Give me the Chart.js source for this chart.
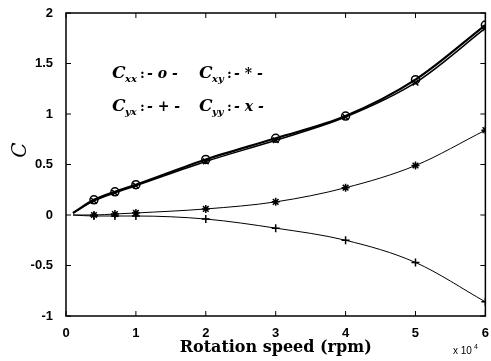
<!DOCTYPE html>
<html>
<head>
    <title>C vs rotation speed</title>
    <script src="https://cdn.jsdelivr.net/npm/chart.js"></script>
    <style>
        body { margin: 0; background: #fff; }
        #wrap { width: 491px; height: 361px; }
    </style>
</head>
<body>
    <div id="wrap"><canvas id="chart" width="491" height="361"></canvas></div>

    <script>
        // rotation speed in units of 10^4 rpm
        const speed = [0.1, 0.4, 0.7, 1, 2, 3, 4, 5, 6];
        const cxx = [0.02, 0.15, 0.23, 0.30, 0.55, 0.76, 0.98, 1.34, 1.88];
        const cxy = [0, 0, 0.01, 0.02, 0.06, 0.13, 0.27, 0.49, 0.84];
        const cyx = [0, -0.01, -0.01, -0.01, -0.04, -0.13, -0.25, -0.47, -0.86];
        const cyy = [0.02, 0.14, 0.22, 0.29, 0.53, 0.74, 0.97, 1.31, 1.85];
        const xTicks = [0, 1, 2, 3, 4, 5, 6];
        const yTicks = [-1, -0.5, 0, 0.5, 1, 1.5, 2];

        const pts = arr => speed.map((s, i) => ({ x: s, y: arr[i] }));
        // no marker on the starting point
        const radii = speed.map((s, i) => i === 0 ? 0 : 4);

        function series(label, data, style, width) {
            return {
                label: label,
                data: pts(data),
                borderColor: '#000',
                backgroundColor: 'rgba(0,0,0,0)',
                borderWidth: width,
                pointStyle: style,
                pointRadius: radii,
                pointBorderWidth: 1.5,
                pointBorderColor: '#000',
                tension: 0.3,
                cubicInterpolationMode: 'monotone',
                fill: false
            };
        }

        // frame, inward ticks, legend text, y title and the x10^4 note
        const framePlugin = {
            id: 'frame',
            afterDraw(chart) {
                const { ctx, chartArea: a, scales } = chart;
                ctx.save();
                ctx.strokeStyle = '#000';
                ctx.lineWidth = 1.5;
                ctx.strokeRect(a.left, a.top, a.right - a.left, a.bottom - a.top);
                ctx.lineWidth = 1;
                ctx.beginPath();
                xTicks.forEach(v => {
                    const px = scales.x.getPixelForValue(v);
                    ctx.moveTo(px, a.bottom); ctx.lineTo(px, a.bottom - 5);
                    ctx.moveTo(px, a.top); ctx.lineTo(px, a.top + 5);
                });
                yTicks.forEach(v => {
                    const py = scales.y.getPixelForValue(v);
                    ctx.moveTo(a.left, py); ctx.lineTo(a.left + 5, py);
                    ctx.moveTo(a.right, py); ctx.lineTo(a.right - 5, py);
                });
                ctx.stroke();

                ctx.fillStyle = '#000';
                ctx.textBaseline = 'alphabetic';
                function entry(x, y, sub, mark) {
                    ctx.font = 'italic bold 17px "DejaVu Serif"';
                    ctx.fillText('C', x, y);
                    ctx.font = 'italic bold 10px "DejaVu Serif"';
                    ctx.fillText(sub, x + 13, y + 4);
                    ctx.font = 'bold 13px "DejaVu Serif"';
                    ctx.fillText(':', x + 28, y);
                    ctx.font = 'italic bold 14px "DejaVu Serif"';
                    ctx.fillText('- ' + mark + ' -', x + 35, y);
                }
                entry(112, 78, 'xx', 'o');
                entry(199, 78, 'xy', '*');
                entry(112, 111, 'yx', '+');
                entry(199, 111, 'yy', 'x');

                ctx.save();
                ctx.translate(21, 150);
                ctx.rotate(-Math.PI / 2);
                ctx.textAlign = 'center';
                ctx.textBaseline = 'middle';
                ctx.font = 'italic 20px "DejaVu Serif"';
                ctx.fillText('C', 0, 0);
                ctx.restore();

                ctx.font = '10px Arial';
                ctx.fillText('x 10', 453, 354);
                ctx.font = '7px Arial';
                ctx.fillText('4', 474, 349);
                ctx.restore();
            }
        };

        new Chart(document.getElementById('chart'), {
            type: 'line',
            data: {
                datasets: [
                    series('Cxx', cxx, 'circle', 2.2),
                    series('Cxy', cxy, 'star', 1),
                    series('Cyx', cyx, 'cross', 1),
                    series('Cyy', cyy, 'crossRot', 1.5)
                ]
            },
            options: {
                responsive: false,
                animation: false,
                layout: { padding: { top: 13, right: 5, left: 0, bottom: 0 } },
                plugins: { legend: { display: false }, tooltip: { enabled: false } },
                scales: {
                    x: {
                        type: 'linear',
                        min: 0, max: 6,
                        afterBuildTicks: s => { s.ticks = xTicks.map(v => ({ value: v })); },
                        afterFit: s => { s.height = 45; },
                        grid: { display: false },
                        border: { display: false },
                        ticks: { color: '#000', font: { family: 'Arial', size: 13, weight: 'bold' }, padding: 2, maxRotation: 0,
                                 callback: v => String(v) },
                        title: { display: true, text: 'Rotation speed (rpm)', color: '#000',
                                 font: { family: '"DejaVu Serif"', size: 16, weight: 'bold' }, padding: { top: 0 } }
                    },
                    y: {
                        min: -1, max: 2,
                        afterBuildTicks: s => { s.ticks = yTicks.map(v => ({ value: v })); },
                        afterFit: s => { s.width = 66; },
                        grid: { display: false },
                        border: { display: false },
                        ticks: { color: '#000', font: { family: 'Arial', size: 13, weight: 'bold' }, padding: 5,
                                 callback: v => String(v) }
                    }
                }
            },
            plugins: [framePlugin]
        });
    </script>
</body>
</html>
